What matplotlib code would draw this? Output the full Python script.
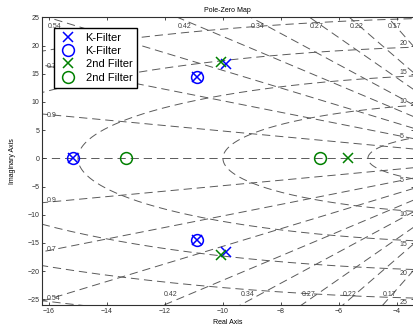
import numpy as np
import matplotlib
matplotlib.use("Agg")
import matplotlib.pyplot as plt

# ---- data ----
k_poles_re = [-15.16, -10.91, -10.91, -9.90, -9.90]
k_poles_im = [0.0, 14.5, -14.5, 16.67, -16.67]
k_zeros_re = [-15.16, -10.91, -10.91]
k_zeros_im = [0.0, 14.5, -14.5]
f2_poles_re = [-5.69, -10.08, -10.08]
f2_poles_im = [0.0, 17.05, -17.05]
f2_zeros_re = [-13.34, -6.66]
f2_zeros_im = [0.0, 0.0]
zeta_vals = [0.17, 0.22, 0.27, 0.34, 0.42, 0.54, 0.7, 0.9]
wn_vals = [5, 10, 15, 20, 25, 30, 35]
xticks = [-16, -14, -12, -10, -8, -6, -4]
yticks = [-25, -20, -15, -10, -5, 0, 5, 10, 15, 20, 25]

plt.rcParams['font.family'] = ['Liberation Sans', 'DejaVu Sans']

xmin, xmax = -16.24, -3.42
ymin, ymax = -26.0, 25.0

fig = plt.figure(figsize=(4.13, 3.33), dpi=100)
ax = fig.add_axes([0.1017, 0.084, 0.9, 0.864])

gcol = '#5a5a5a'
gkw = dict(color=gcol, lw=0.7, ls=(0, (8.5, 5)), zorder=1)

# damping lines
R = 80
for z in zeta_vals:
    s = np.sqrt(1 - z * z)
    ax.plot([0, -R * z], [0, R * s], **gkw)
    ax.plot([0, -R * z], [0, -R * s], **gkw)
ax.plot([0, -R], [0, 0], **gkw)

# natural frequency circles
th = np.linspace(-np.pi / 2, np.pi / 2, 400)
for w in wn_vals:
    ax.plot(-w * np.cos(th), w * np.sin(th), **gkw)

tcol = '#404040'
fs = 5
# zeta labels
for z in zeta_vals:
    slope = np.sqrt(1 - z * z) / z
    lab = str(z)
    xt = -ymax / slope
    if xt >= xmin:
        ax.text(xt, 23.4, lab, ha='left', va='center', fontsize=fs, color=tcol)
    else:
        ax.text(xmin + 0.17, -slope * xmin - 0.3, lab, ha='left', va='center', fontsize=fs, color=tcol)
    xb = ymin / slope
    if xb >= xmin:
        ax.text(xb, -24.2, lab, ha='left', va='center', fontsize=fs, color=tcol)
    else:
        ax.text(xmin + 0.17, slope * xmin + 0.4, lab, ha='left', va='center', fontsize=fs, color=tcol)

# wn labels
xl = -3.9
for w in wn_vals:
    if w <= abs(xl):
        continue
    y = np.sqrt(w * w - xl * xl)
    if y < ymax - 1:
        ax.text(xl, y + 0.2, str(w), ha='left', va='bottom', fontsize=fs, color=tcol)
    if y < abs(ymin) - 1:
        ax.text(xl, -y - 0.2, str(w), ha='left', va='top', fontsize=fs, color=tcol)

blue = '#0000ff'
green = '#008000'
ax.plot(k_poles_re, k_poles_im, 'x', color=blue, ms=6.5, mew=1.1, ls='none', label='K-Filter', zorder=3)
ax.plot(k_zeros_re, k_zeros_im, 'o', mfc='none', mec=blue, ms=8.5, mew=1.1, ls='none', label='K-Filter', zorder=3)
ax.plot(f2_poles_re, f2_poles_im, 'x', color=green, ms=6.5, mew=1.1, ls='none', label='2nd Filter', zorder=3)
ax.plot(f2_zeros_re, f2_zeros_im, 'o', mfc='none', mec=green, ms=8.5, mew=1.1, ls='none', label='2nd Filter', zorder=3)

ax.set_xlim(xmin, xmax)
ax.set_ylim(ymin, ymax)
ax.set_xticks(xticks)
ax.set_yticks(yticks)
ax.tick_params(direction='in', length=2.5, width=0.6, labelsize=fs, colors='#303030',
               top=True, right=True, pad=2)
for sp in ax.spines.values():
    sp.set_color('#303030')
    sp.set_linewidth(0.8)

ax.set_title('Pole-Zero Map', fontsize=fs, pad=3.5)
ax.set_xlabel('Real Axis', fontsize=fs, labelpad=3)
ax.set_ylabel('Imaginary Axis', fontsize=fs, labelpad=8)

leg = ax.legend(loc='upper left', bbox_to_anchor=(0.032, 0.964), borderaxespad=0,
                fontsize=8, frameon=True, fancybox=False, framealpha=1,
                edgecolor='black', handlelength=1.6, handletextpad=0.8,
                labelspacing=0.3, borderpad=0.45)
leg.get_frame().set_linewidth(1.0)

fig.savefig('out.png', dpi=100)
